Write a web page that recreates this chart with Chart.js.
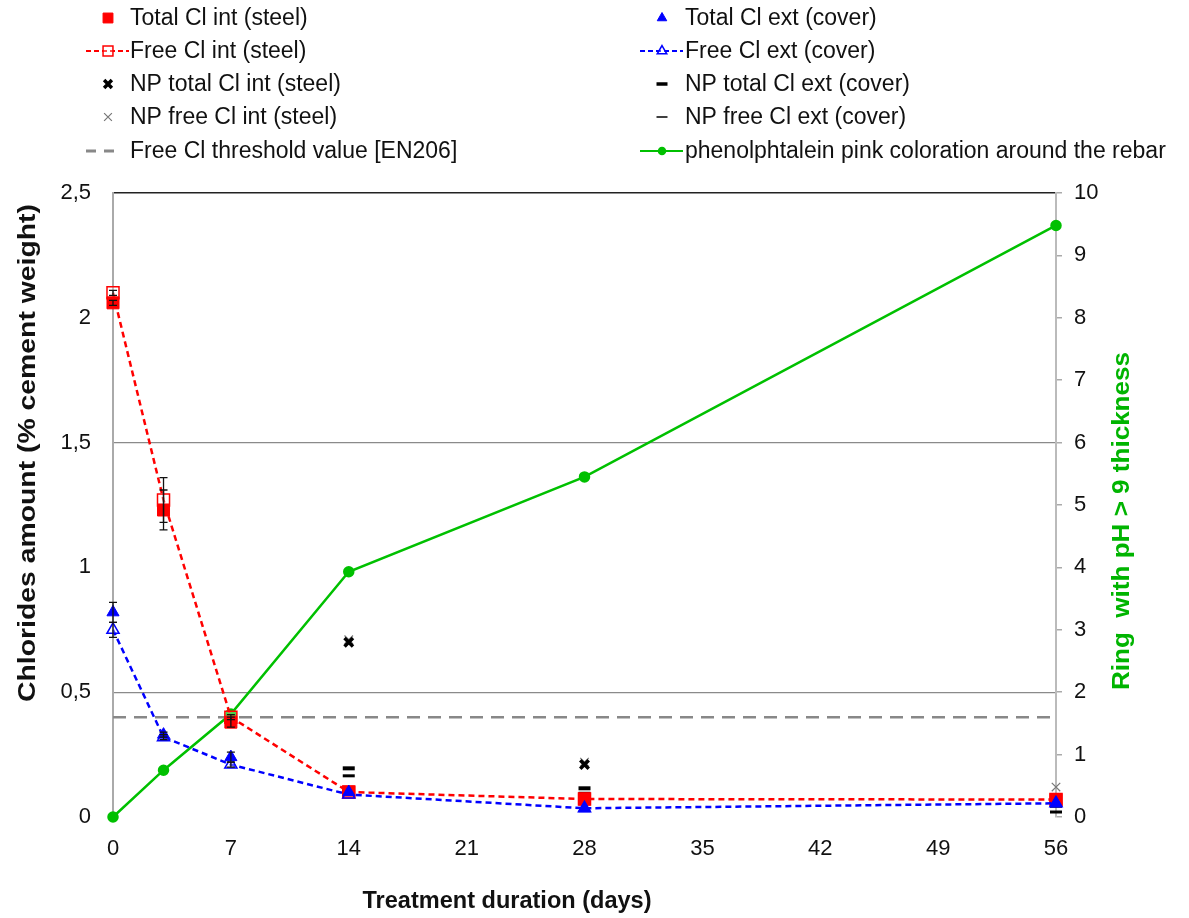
<!DOCTYPE html>
<html>
<head>
<meta charset="utf-8">
<script src="https://cdn.jsdelivr.net/npm/chart.js@4/dist/chart.umd.min.js"></script>
<style>
  html, body { margin: 0; padding: 0; background: #fff; }
  canvas { display: block; }
</style>
</head>
<body>
<canvas id="chlorideChart" width="1189" height="918"></canvas>
<script>
// treatment days
var days = [0, 3, 7, 14, 28, 56];
var npDays = [14, 28, 56];
var xTicks = [0, 7, 14, 21, 28, 35, 42, 49, 56];

// chlorides (% cement weight)
var totalIntSteel = [2.06, 1.23, 0.38, 0.10, 0.072, 0.07];
var freeIntSteel = [2.10, 1.27, 0.40, 0.10, 0.072, 0.07];
var totalExtCover = [0.82, 0.33, 0.24, 0.10, 0.035, 0.055];
var freeExtCover = [0.75, 0.32, 0.21, 0.09, 0.035, 0.055];
var totalIntErr = [0.01, 0.08, 0.02, 0, 0, 0];
var freeIntErr = [0.01, 0.09, 0.01, 0, 0, 0];
var totalExtErr = [0.04, 0.01, 0.02, 0, 0, 0];
var freeExtErr = [0.03, 0.01, 0.01, 0, 0, 0];

// non protected samples
var npTotalInt = [0.70, 0.21, 0.07];
var npFreeInt = [0.71, 0.22, 0.12];
var npTotalExt = [0.195, 0.115, 0.045];
var npFreeExt = [0.165, 0.095, 0.02];

var thresholdDays = [0, 56];
var thresholdValue = [0.4, 0.4];

// ring with pH > 9 thickness (right axis)
var pinkRing = [0, 0.75, 1.65, 3.93, 5.45, 9.48];

var RED = '#ff0000', BLUE = '#0000ff', GREEN = '#00c000';
var FONT = "'Liberation Sans', Arial, sans-serif";

function pts(xs, ys) {
    return xs.map(function(x, i) { return {x: x, y: ys[i]}; });
}

var datasets = [
    {label: 'Total Cl ext (cover)', data: pts(days, totalExtCover), showLine: false,
     pointStyle: 'triangle', pointRadius: 7, backgroundColor: BLUE, borderColor: BLUE, borderWidth: 1},
    {label: 'Free Cl ext (cover)', data: pts(days, freeExtCover), borderDash: [6, 4], borderWidth: 2.5,
     borderColor: BLUE, pointStyle: 'triangle', pointRadius: 7, pointBackgroundColor: 'rgba(255,255,255,0.3)',
     pointBorderColor: BLUE, pointBorderWidth: 1.5},
    {label: 'Total Cl int (steel)', data: pts(days, totalIntSteel), showLine: false,
     pointStyle: 'rect', pointRadius: 8.5, backgroundColor: RED, borderColor: RED, borderWidth: 1},
    {label: 'Free Cl int (steel)', data: pts(days, freeIntSteel), borderDash: [6, 4], borderWidth: 2.5,
     borderColor: RED, pointStyle: 'rect', pointRadius: 8.5, pointBackgroundColor: 'rgba(255,255,255,0.3)',
     pointBorderColor: RED, pointBorderWidth: 1.5},
    {label: 'NP total Cl int (steel)', data: pts(npDays, npTotalInt), showLine: false,
     pointStyle: 'crossRot', pointRadius: 6, borderColor: '#000', borderWidth: 3.5},
    {label: 'NP free Cl int (steel)', data: pts(npDays, npFreeInt), showLine: false,
     pointStyle: 'crossRot', pointRadius: 6, borderColor: '#777', borderWidth: 1.2},
    {label: 'NP total Cl ext (cover)', data: pts(npDays, npTotalExt), showLine: false,
     pointStyle: 'line', pointRadius: 6, borderColor: '#000', borderWidth: 4},
    {label: 'NP free Cl ext (cover)', data: pts(npDays, npFreeExt), showLine: false,
     pointStyle: 'line', pointRadius: 6, borderColor: '#000', borderWidth: 3},
    {label: 'Free Cl threshold value [EN206]', data: pts(thresholdDays, thresholdValue), borderColor: '#888',
     borderDash: [13, 8], borderWidth: 2.5, pointRadius: 0},
    {label: 'phenolphtalein pink coloration around the rebar', data: pts(days, pinkRing), yAxisID: 'y2',
     borderColor: GREEN, backgroundColor: GREEN, borderWidth: 2.5, pointStyle: 'circle', pointRadius: 4.5}
];
datasets.forEach(function(d) { d.clip = false; d.type = 'line'; if (!d.yAxisID) d.yAxisID = 'y'; });

// legend rows: [dataset label, column, row, kind]
var legendItems = [
    ['Total Cl int (steel)', 0, 0, 'point'],
    ['Free Cl int (steel)', 0, 1, 'line'],
    ['NP total Cl int (steel)', 0, 2, 'point'],
    ['NP free Cl int (steel)', 0, 3, 'point'],
    ['Free Cl threshold value [EN206]', 0, 4, 'dash'],
    ['Total Cl ext (cover)', 1, 0, 'point'],
    ['Free Cl ext (cover)', 1, 1, 'line'],
    ['NP total Cl ext (cover)', 1, 2, 'point'],
    ['NP free Cl ext (cover)', 1, 3, 'point'],
    ['phenolphtalein pink coloration around the rebar', 1, 4, 'line']
];

var legendPlugin = {
    id: 'sideLegend',
    afterDraw: function(chart) {
        var ctx = chart.ctx;
        var colX = [108, 662];
        var textX = [130, 685];
        var rowY = [18, 51, 84, 117, 151];
        ctx.save();
        legendItems.forEach(function(it) {
            var ds = chart.data.datasets.find(function(d) { return d.label === it[0]; });
            var cx = colX[it[1]], cy = rowY[it[2]];
            if (it[3] === 'line') {
                ctx.beginPath();
                ctx.strokeStyle = ds.borderColor;
                ctx.lineWidth = 2;
                ctx.setLineDash(ds.borderDash ? [5, 3] : []);
                ctx.moveTo(cx - 22, cy); ctx.lineTo(cx + 21, cy);
                ctx.stroke();
                ctx.setLineDash([]);
            }
            if (it[3] === 'dash') {
                ctx.beginPath();
                ctx.strokeStyle = ds.borderColor;
                ctx.lineWidth = 3;
                ctx.setLineDash([10, 8]);
                ctx.moveTo(cx - 22, cy); ctx.lineTo(cx + 14, cy);
                ctx.stroke();
                ctx.setLineDash([]);
            }
            if (it[3] !== 'dash' && (ds.pointRadius || 0) > 0) {
                var r = ds.pointStyle === 'circle' ? 3 : (ds.pointStyle === 'rect' ? 7 : 5.5);
                ctx.fillStyle = ds.pointBackgroundColor || ds.backgroundColor || '#fff';
                ctx.strokeStyle = ds.pointBorderColor || ds.borderColor;
                ctx.lineWidth = ds.pointBorderWidth || ds.borderWidth;
                if (ds.pointStyle === 'line' || ds.pointStyle === 'crossRot') ctx.lineWidth = Math.min(ctx.lineWidth, 3.5);
                if (ds.label === 'NP free Cl ext (cover)') ctx.lineWidth = 1.5;
                Chart.helpers.drawPoint(ctx, {pointStyle: ds.pointStyle, radius: r, rotation: 0,
                    borderWidth: ctx.lineWidth}, cx, cy);
            }
            ctx.fillStyle = '#111';
            ctx.font = '23px ' + FONT;
            ctx.textAlign = 'left';
            ctx.textBaseline = 'middle';
            ctx.fillText(it[0], textX[it[1]], cy + 1);
        });
        ctx.restore();
    }
};

var errorSets = [
    ['Total Cl int (steel)', totalIntErr],
    ['Free Cl int (steel)', freeIntErr],
    ['Total Cl ext (cover)', totalExtErr],
    ['Free Cl ext (cover)', freeExtErr]
];

var errorBarPlugin = {
    id: 'errorBars',
    afterDatasetsDraw: function(chart) {
        var ctx = chart.ctx, xs = chart.scales.x, ys = chart.scales.y;
        ctx.save();
        ctx.strokeStyle = '#111';
        ctx.lineWidth = 1.3;
        errorSets.forEach(function(es) {
            var ds = chart.data.datasets.find(function(d) { return d.label === es[0]; });
            ds.data.forEach(function(p, i) {
                var e = es[1][i];
                if (!e) return;
                var px = xs.getPixelForValue(p.x);
                var top = ys.getPixelForValue(p.y + e), bot = ys.getPixelForValue(p.y - e);
                ctx.beginPath();
                ctx.moveTo(px, top); ctx.lineTo(px, bot);
                ctx.moveTo(px - 4, top); ctx.lineTo(px + 4, top);
                ctx.moveTo(px - 4, bot); ctx.lineTo(px + 4, bot);
                ctx.stroke();
            });
        });
        ctx.restore();
    }
};

// draw a title stretched to the length it has in the picture
function fitText(ctx, text, cx, cy, len, angle, color) {
    ctx.save();
    ctx.font = 'bold 23px ' + FONT;
    ctx.textAlign = 'center';
    ctx.textBaseline = 'middle';
    ctx.fillStyle = color;
    ctx.translate(cx, cy);
    ctx.rotate(angle);
    var w = ctx.measureText(text).width;
    ctx.scale(len / w, 1);
    ctx.fillText(text, 0, 0);
    ctx.restore();
}

var titlesPlugin = {
    id: 'axisTitles',
    afterDraw: function(chart) {
        var ctx = chart.ctx;
        fitText(ctx, 'Treatment duration (days)', 507, 902, 289, 0, '#111');
        fitText(ctx, 'Chlorides amount (% cement weight)', 29, 453, 498, -Math.PI / 2, '#111');
        fitText(ctx, 'Ring  with pH > 9 thickness', 1123, 521, 338, -Math.PI / 2, '#00b400');
    }
};

Chart.defaults.font.family = FONT;
Chart.defaults.font.size = 22;
Chart.defaults.color = '#111';

var config = {
    type: 'line',
    data: {datasets: datasets},
    options: {
        responsive: false,
        animation: false,
        layout: {padding: {top: 193, left: 0, right: 0, bottom: 0}},
        plugins: {legend: {display: false}, tooltip: {enabled: false}},
        scales: {
            x: {
                type: 'linear', min: 0, max: 56,
                afterBuildTicks: function(s) { s.ticks = xTicks.map(function(v) { return {value: v}; }); },
                afterFit: function(s) { s.height = 101; },
                grid: {display: false},
                border: {display: false},
                ticks: {padding: 11, color: '#111'}
            },
            y: {
                position: 'left', min: 0, max: 2.5,
                afterFit: function(s) { s.width = 113; },
                ticks: {stepSize: 0.5, padding: 22, color: '#111',
                    callback: function(v) { return String(v).replace('.', ','); }},
                grid: {
                    drawTicks: false,
                    color: function(c) {
                        var v = c.tick ? c.tick.value : null;
                        if (v === 2.5) return '#222';
                        if (v === 0.5 || v === 1.5) return '#8a8a8a';
                        return 'rgba(0,0,0,0)';
                    },
                    lineWidth: function(c) { return c.tick && c.tick.value === 2.5 ? 1.5 : 1.2; }
                },
                border: {color: '#aaa', width: 2}
            },
            y2: {
                position: 'right', min: 0, max: 10,
                afterFit: function(s) { s.width = 133; },
                ticks: {stepSize: 1, padding: 12, color: '#111'},
                grid: {drawOnChartArea: false, drawTicks: true, tickLength: 6, color: '#aaa', lineWidth: 1.5},
                border: {color: '#bbb', width: 2}
            }
        }
    },
    plugins: [errorBarPlugin, legendPlugin, titlesPlugin]
};

var ctx = document.getElementById('chlorideChart').getContext('2d');
var chlorideChart = new Chart(ctx, config);
</script>
</body>
</html>
